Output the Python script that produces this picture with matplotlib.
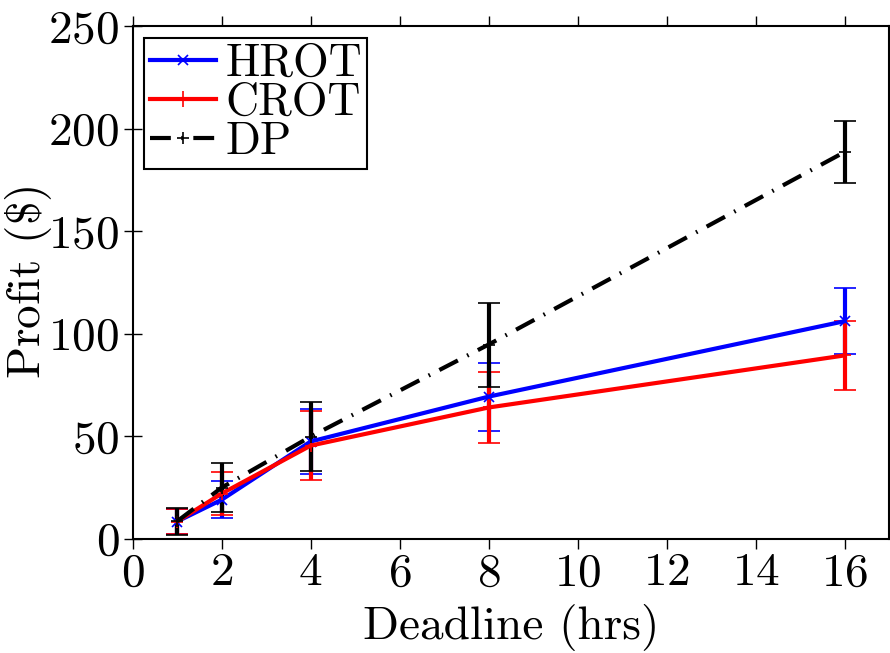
import matplotlib
matplotlib.use("Agg")
import matplotlib.pyplot as plt
from matplotlib.lines import Line2D

# Fonte estilo LaTeX (Computer Modern)
plt.rcParams['font.family'] = ['cmr10', 'DejaVu Serif']
plt.rcParams['mathtext.fontset'] = 'cm'
plt.rcParams['axes.formatter.use_mathtext'] = True
plt.rcParams['font.size'] = 34

# Dados
deadline = [1, 2, 4, 8, 16]

hrot = [8.4, 19.0, 47.4, 69.3, 106.1]
hrot_err = [6.3, 9.0, 15.7, 16.6, 16.0]

crot = [8.4, 22.0, 45.4, 64.0, 89.4]
crot_err = [6.3, 10.4, 17.0, 17.5, 16.7]

dp = [8.5, 24.9, 49.8, 94.7, 188.6]
dp_err = [6.5, 12.0, 17.0, 20.5, 15.0]

dp_style = (0, (5, 2.5, 0.4, 2.5))

fig = plt.figure(figsize=(8.9, 6.53), dpi=100)
ax = fig.add_axes([0.149, 0.175, 0.850, 0.785])

ax.errorbar(deadline, hrot, yerr=hrot_err, color='blue', marker='x', markersize=7,
            markeredgewidth=1.2, linewidth=3, elinewidth=3, capsize=8, capthick=3)
ax.errorbar(deadline, crot, yerr=crot_err, color='red', marker='+', markersize=9,
            markeredgewidth=1.2, linewidth=3, elinewidth=3, capsize=8, capthick=3)
ax.errorbar(deadline, dp, yerr=dp_err, color='black', marker='+', markersize=9,
            markeredgewidth=1.2, linewidth=3, linestyle=dp_style,
            elinewidth=3, capsize=8, capthick=3)

ax.set_xlim(0, 17)
ax.set_ylim(0, 250)
ax.set_xticks(range(0, 17, 2))
ax.set_yticks(range(0, 251, 50))

ax.set_xlabel('Deadline (hrs)', labelpad=7)
ax.set_ylabel(r'Profit ($\$$)', labelpad=-4)

ax.tick_params(axis='x', direction='out', length=7, width=1, top=True, pad=3)
ax.tick_params(axis='y', direction='inout', length=13, width=1, right=False, pad=3)
for s in ax.spines.values():
    s.set_linewidth(1.5)

# Legenda sem barras de erro
handles = [
    Line2D([], [], color='blue', marker='x', markersize=7, markeredgewidth=1.2, linewidth=3),
    Line2D([], [], color='red', marker='+', markersize=12, markeredgewidth=1.2, linewidth=3),
    Line2D([], [], color='black', marker='+', markersize=9, markeredgewidth=1.2, linewidth=3,
           linestyle=dp_style),
]
leg = ax.legend(handles, ['HROT', 'CROT', 'DP'], loc='upper left', fontsize=33,
                frameon=True, fancybox=False, edgecolor='black', framealpha=1,
                handlelength=1.45, handletextpad=0.2, borderpad=0.12,
                labelspacing=-0.05, borderaxespad=0.25)
leg.get_frame().set_linewidth(1.5)

plt.savefig('out.png', dpi=100)
plt.close()
